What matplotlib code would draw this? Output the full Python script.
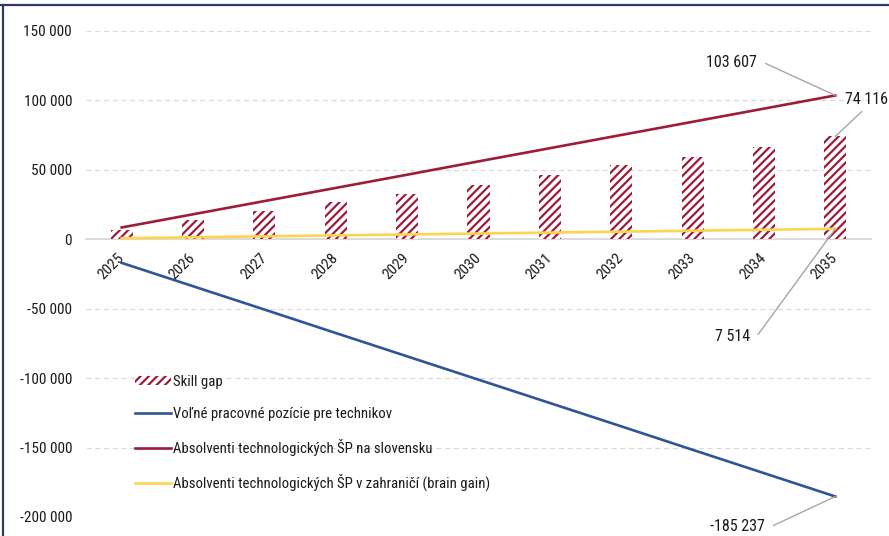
import matplotlib
matplotlib.use("Agg")
import matplotlib.pyplot as plt
from matplotlib import font_manager
from matplotlib.lines import Line2D
from matplotlib.patches import ConnectionStyle
from matplotlib.ticker import FuncFormatter
import numpy as np

# ---- font choice: prefer a narrow sans (Arial Narrow look-alike) ----
flist = font_manager.fontManager.ttflist
names = {f.name for f in flist}
narrow = None
for nm in ["Liberation Sans Narrow", "Arial Narrow", "Roboto Condensed", "Open Sans Condensed",
           "Noto Sans Condensed", "DejaVu Sans Condensed"]:
    if nm in names:
        narrow = nm
        break
stretch_cond = False
if narrow is None:
    for f in flist:
        if f.name == "DejaVu Sans" and str(f.stretch) in ("condensed", "semi-condensed") and f.style == "normal":
            stretch_cond = True
            break
if narrow:
    plt.rcParams["font.family"] = [narrow, "DejaVu Sans"]
    scale = 1.0
elif stretch_cond:
    plt.rcParams["font.family"] = ["DejaVu Sans"]
    plt.rcParams["font.stretch"] = "condensed"
    scale = 0.9
else:
    plt.rcParams["font.family"] = ["Liberation Sans", "DejaVu Sans"]
    scale = 0.86
plt.rcParams["hatch.linewidth"] = 1.6

years = ["2025", "2026", "2027", "2028", "2029", "2030", "2031", "2032", "2033", "2034", "2035"]
skill_gap = [6800, 14200, 20400, 26600, 32600, 38800, 46000, 53200, 59500, 66200, 74116]
volne_pozicie = [-17000, -33800, -50600, -67500, -84300, -101100, -117900, -134700, -151600, -168400, -185237]
absolventi_sk = [8500, 18000, 27500, 37000, 46500, 56100, 65600, 75100, 84600, 94100, 103607]
absolventi_zahr = [800, 1470, 2140, 2810, 3490, 4160, 4830, 5500, 6170, 6840, 7514]

RED = "#9E1B3A"
BLUE = "#2E5597"
YEL = "#FFD34F"
GRID = "#D9D9D9"
TXT = "#1A1A1A"
LEAD = "#A6A6A6"

FS = 11 * scale
FS_LBL = 11.5 * scale
FS_LEG = 10.6 * scale

fig = plt.figure(figsize=(8.89, 5.36), dpi=100)
ax = fig.add_axes([86 / 889, 1 - 517 / 536, 785 / 889, 486 / 536])

x = np.arange(len(years))
h_bar = ax.bar(x, skill_gap, width=0.31, facecolor="white", edgecolor=RED, hatch="////",
               linewidth=0, label="Skill gap", zorder=2)
h_blue, = ax.plot(x, volne_pozicie, color=BLUE, lw=1.9, label="Voľné pracovné pozície pre technikov", zorder=3)
h_red, = ax.plot(x, absolventi_sk, color=RED, lw=1.9, label="Absolventi technologických ŠP na slovensku", zorder=3)
h_yel, = ax.plot(x, absolventi_zahr, color=YEL, lw=1.9, label="Absolventi technologických ŠP v zahraničí (brain gain)", zorder=3)

ax.set_xlim(-0.5, len(years) - 0.5)
ax.set_ylim(-200000, 150000)
ax.set_yticks(np.arange(-200000, 150001, 50000))
fmt = lambda v: f"{v:,.0f}".replace(",", " ")
ax.yaxis.set_major_formatter(FuncFormatter(lambda v, p: fmt(v)))
ax.yaxis.grid(True, color=GRID, lw=0.9, ls=(0, (4, 3)))
ax.set_axisbelow(True)
for s in ["left", "right", "top"]:
    ax.spines[s].set_visible(False)
ax.spines["bottom"].set_position(("data", 0))
ax.spines["bottom"].set_color(GRID)
ax.spines["bottom"].set_linewidth(1.3)
ax.spines["bottom"].set_zorder(1)
ax.tick_params(axis="y", length=0, pad=10, labelsize=FS, labelcolor=TXT)
ax.tick_params(axis="x", length=0, pad=12, labelsize=FS, labelcolor=TXT)
ax.set_xticks(x)
ax.set_xticklabels(years, rotation=45, ha="right", va="center", rotation_mode="anchor")

stub = ConnectionStyle.Arc(angleA=0, angleB=0, armA=6, armB=None, rad=0)
straight = ConnectionStyle.Arc3(rad=0)

def label(xi, yi, text, dx, dy, ha, relpos, conn, shrinkA):
    ax.annotate(text, xy=(xi, yi), xytext=(dx, dy), textcoords="offset pixels",
                ha=ha, va="center", fontsize=FS_LBL, color=TXT, annotation_clip=False,
                arrowprops=dict(arrowstyle="-", color=LEAD, lw=1, shrinkA=shrinkA, shrinkB=0,
                                relpos=relpos, connectionstyle=conn))

last = len(years) - 1
label(last, absolventi_sk[-1], fmt(absolventi_sk[-1]), -78, 33, "right", (1, 0.5), stub, 4)
label(last, skill_gap[-1], fmt(skill_gap[-1]), 10, 37, "left", (0.5, 0), straight, 2)
label(last, absolventi_zahr[-1], fmt(absolventi_zahr[-1]), -85, -108, "right", (1, 0.5), stub, 4)
label(last, volne_pozicie[-1], fmt(volne_pozicie[-1]), -70, -30, "right", (1, 0.5), stub, 4)

leg = ax.legend(handles=[h_bar, h_blue, h_red, h_yel],
                loc="upper left", bbox_to_anchor=(0.063, 0.292), frameon=False, fontsize=FS_LEG,
                handlelength=2.4, handleheight=0.55, handletextpad=0.15, labelspacing=1.22,
                borderaxespad=0, borderpad=0)
for t in leg.get_texts():
    t.set_color(TXT)

fig.add_artist(Line2D([0, 1], [1 - 4.5 / 536] * 2, color="#2B3A67", lw=1.6, transform=fig.transFigure))
fig.add_artist(Line2D([2.5 / 889] * 2, [0, 1 - 4.5 / 536], color="#2B3A67", lw=1.6, transform=fig.transFigure))

fig.savefig("out.png", dpi=100)
